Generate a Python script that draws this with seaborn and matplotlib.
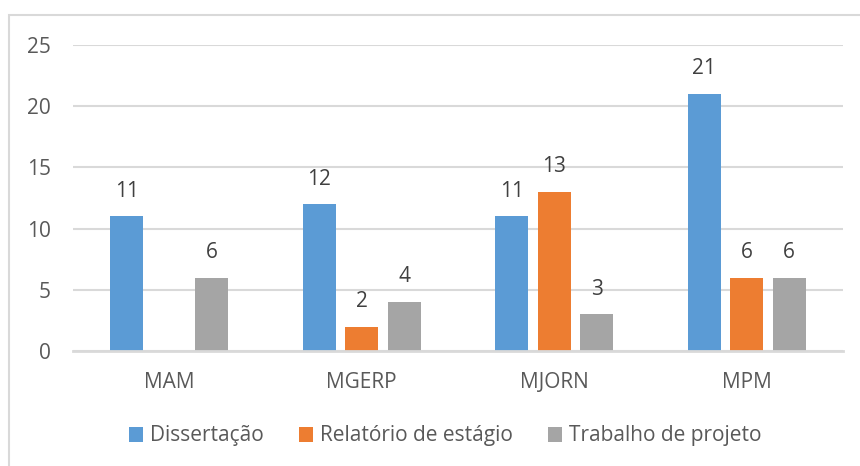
import numpy as np
import pandas as pd
import seaborn as sns
import matplotlib.pyplot as plt
from matplotlib.patches import Rectangle

categories = ["MAM", "MGERP", "MJORN", "MPM"]
series = ["Dissertação", "Relatório de estágio", "Trabalho de projeto"]
dissertacao = [11, 12, 11, 21]
relatorio = [np.nan, 2, 13, 6]
trabalho = [6, 4, 3, 6]
colors = ["#5B9BD5", "#ED7D31", "#A5A5A5"]
yticks = [0, 5, 10, 15, 20, 25]

df = pd.DataFrame({
    "Curso": categories * 3,
    "Tipo": [s for s in series for _ in categories],
    "Valor": dissertacao + relatorio + trabalho,
})

sns.set_theme(style="white")
plt.rcParams['font.family'] = ['Open Sans', 'DejaVu Sans']
txt = "#595959"
grid = "#D9D9D9"
fs = 15

fig = plt.figure(figsize=(8.6, 4.66), dpi=100)
ax = fig.add_axes([73/860, 115/466, 770/860, 306/466])
sns.barplot(data=df, x="Curso", y="Valor", hue="Tipo", hue_order=series,
            palette=colors, saturation=1, width=0.66, gap=0.22, ax=ax,
            linewidth=0, edgecolor="none")

for c in ax.containers:
    ax.bar_label(c, fmt="%g", padding=10.5, fontsize=fs, color="#404040")

ax.set_ylim(0, 25)
ax.set_yticks(yticks)
ax.set_xlabel("")
ax.set_ylabel("")
for s in ["top", "right", "left"]:
    ax.spines[s].set_visible(False)
ax.spines["bottom"].set_color(grid)
ax.spines["bottom"].set_linewidth(2)
ax.yaxis.grid(True, color=grid, linewidth=1.5)
ax.set_axisbelow(True)
ax.tick_params(axis="y", length=0, pad=16, labelsize=fs, labelcolor=txt)
ax.tick_params(axis="x", length=0, pad=15, labelsize=fs, labelcolor=txt)

sns.move_legend(ax, "center", bbox_to_anchor=(445/860, 1 - 436/466),
                bbox_transform=fig.transFigure, ncol=3, frameon=False, title=None,
                fontsize=fs, handlelength=0.7, handleheight=0.7,
                handletextpad=0.3, columnspacing=1.7)
for t in ax.get_legend().get_texts():
    t.set_color(txt)

fig.add_artist(Rectangle((9/860, -0.1), 1.2, 0.1 + 1 - 15.5/466,
                         transform=fig.transFigure, fill=False,
                         edgecolor=grid, linewidth=1.5))

fig.savefig("out.png", dpi=100)
